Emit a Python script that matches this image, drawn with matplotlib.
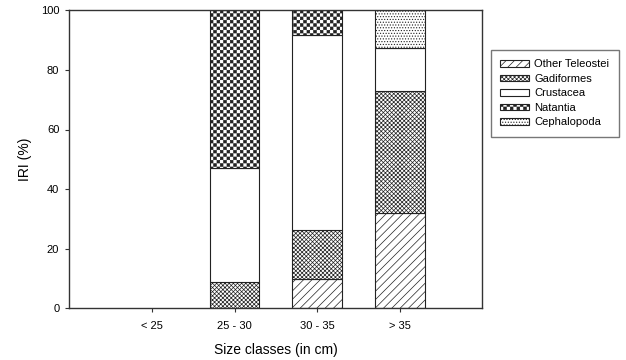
import numpy as np
import matplotlib
matplotlib.use("Agg")
import matplotlib.pyplot as plt
import matplotlib.hatch as mhatch
from matplotlib.patches import Patch
from matplotlib.path import Path

# ---- data ----
categories = ["< 25", "25 - 30", "30 - 35", "> 35"]
series_names = ["Other Teleostei", "Gadiformes", "Crustacea", "Natantia", "Cephalopoda"]
other_teleostei = [0.0, 0.0, 10.0, 32.0]
gadiformes = [0.0, 8.7, 16.3, 40.9]
crustacea = [0.0, 38.5, 65.4, 14.3]
natantia = [0.0, 52.8, 8.3, 0.0]
cephalopoda = [0.0, 0.0, 0.0, 12.8]
yticks = [0, 20, 40, 60, 80, 100]


# ---- checkerboard hatch ('*' used as the checker marker) ----
class Checker(mhatch.HatchPatternBase):
    def __init__(self, hatch, density):
        self.num_rows = int(hatch.count('*') * density)
        n = self.num_rows
        self.cells = [(i, j) for i in range(n) for j in range(n) if (i + j) % 2 == 0]
        self.num_vertices = len(self.cells) * 5 if n else 0

    def set_vertices_and_codes(self, vertices, codes):
        n = self.num_rows
        s = 1.0 / n
        shrink = 0.1 * s
        k = 0
        for (i, j) in self.cells:
            x0, y0 = i * s + shrink, j * s + shrink
            x1, y1 = (i + 1) * s - shrink, (j + 1) * s - shrink
            vertices[k:k + 5] = [(x0, y0), (x1, y0), (x1, y1), (x0, y1), (x0, y0)]
            codes[k:k + 5] = [Path.MOVETO, Path.LINETO, Path.LINETO, Path.LINETO, Path.CLOSEPOLY]
            k += 5


mhatch._hatch_types = [t for t in mhatch._hatch_types if t is not mhatch.Stars] + [Checker]

plt.rcParams['font.family'] = ['Liberation Sans', 'DejaVu Sans']
plt.rcParams['hatch.linewidth'] = 0.5
plt.rcParams['hatch.color'] = 'black'

fig = plt.figure(figsize=(6.26, 3.60), dpi=100)
ax = fig.add_axes([69 / 626, 1 - 308.3 / 360, (482 - 69) / 626, 298 / 360])

series = [other_teleostei, gadiformes, crustacea, natantia, cephalopoda]
hatches = ['////', 'xxxxxxxx', '', '*****', '......']
x = np.arange(len(categories))
bottom = np.zeros(len(categories))
handles = []
for name, vals, h in zip(series_names, series, hatches):
    vals = np.array(vals)
    bars = ax.bar(x, vals, width=0.6, bottom=bottom, color='white',
                  edgecolor='#222222', linewidth=0.8, hatch=h)
    for p, v in zip(bars.patches, vals):
        if v <= 0:
            p.set_visible(False)
    handles.append(Patch(facecolor='white', edgecolor='#222222',
                         linewidth=0.8, hatch=h, label=name))
    bottom = bottom + vals

ax.set_xlim(-1.0, 3.99)
ax.set_ylim(0, 100)
ax.set_xticks(x)
ax.set_xticklabels(categories)
ax.set_yticks(yticks)
ax.tick_params(axis='x', direction='out', length=3, width=0.8, pad=6,
               labelsize=8, colors='#333333', labelcolor='black')
ax.tick_params(axis='y', direction='out', length=3, width=0.8, pad=4,
               labelsize=8, colors='#333333', labelcolor='black')
for sp in ax.spines.values():
    sp.set_color('#333333')
    sp.set_linewidth(1.0)

ax.set_xlabel("Size classes (in cm)", fontsize=10, va='center')
ax.xaxis.set_label_coords(0.5, -0.14)
ax.set_ylabel("IRI (%)", fontsize=10, va='center')
ax.yaxis.set_label_coords(-0.1065, 0.5)

leg = fig.legend(handles=handles, loc='upper left',
                 bbox_to_anchor=(491 / 626, 1 - 50 / 360),
                 bbox_transform=fig.transFigure, borderaxespad=0,
                 fontsize=8, handlelength=2.6, handleheight=0.55,
                 handletextpad=0.45, labelspacing=0.4, borderpad=0.85,
                 fancybox=False, frameon=True)
leg.get_frame().set_edgecolor('#555555')
leg.get_frame().set_linewidth(1.0)

fig.savefig("out.png", dpi=100)
